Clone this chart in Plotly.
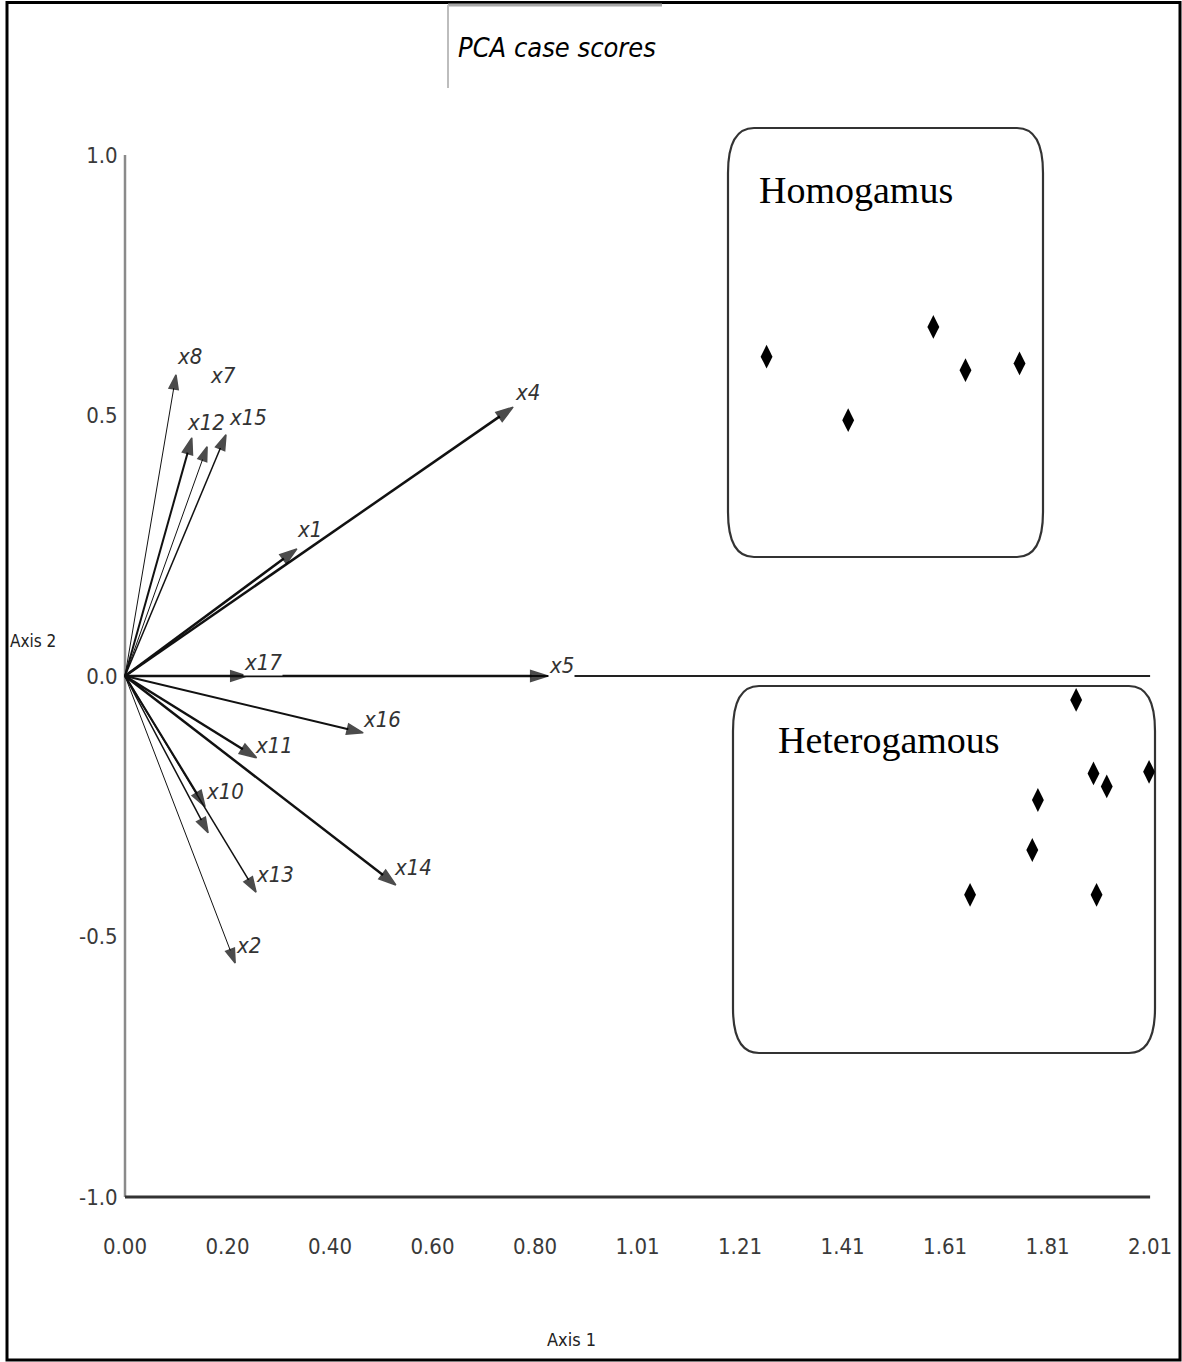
import plotly.graph_objects as go

# ---------------- data ----------------
var_names = ["x8", "x12", "x7", "x15", "x4", "x1", "x17", "x5", "x16", "x11", "x10", "x9", "x13", "x14", "x2"]
var_axis1 = [0.100, 0.131, 0.161, 0.198, 0.761, 0.337, 0.239, 0.829, 0.467, 0.258, 0.157, 0.163, 0.257, 0.531, 0.216]
var_axis2 = [0.578, 0.457, 0.440, 0.463, 0.516, 0.244, 0.000, 0.000, -0.109, -0.157, -0.251, -0.301, -0.415, -0.401, -0.551]

homo_axis1 = [1.258, 1.418, 1.585, 1.648, 1.754]
homo_axis2 = [0.613, 0.491, 0.670, 0.587, 0.600]

hetero_axis1 = [1.865, 1.899, 1.925, 2.008, 1.790, 1.779, 1.657, 1.905]
hetero_axis2 = [-0.046, -0.187, -0.212, -0.184, -0.238, -0.334, -0.420, -0.420]

x_tick_values = [i * 0.201 for i in range(11)]
x_tick_labels = ["0.00", "0.20", "0.40", "0.60", "0.80", "1.01", "1.21", "1.41", "1.61", "1.81", "2.01"]
y_tick_values = [-1.0, -0.5, 0.0, 0.5, 1.0]
y_tick_labels = ["-1.0", "-0.5", "0.0", "0.5", "1.0"]

# ---------------- styles / layout geometry ----------------
W, H = 1182, 1362
PX0, PXU = 125, 510.0   # pixel of x=0, pixels per unit
PY0, PYU = 676, 521.0   # pixel of y=0, pixels per unit
xr = [(0 - PX0) / PXU, (W - PX0) / PXU]
yr = [(PY0 - H) / PYU, (PY0 - 0) / PYU]

NARROW = "Liberation Sans Narrow, Arial Narrow, DejaVu Sans Condensed, Liberation Sans, Arial"
SERIF = "Liberation Serif, Times New Roman, serif"

widths = {"x8": 1, "x12": 2, "x7": 1, "x15": 1.5, "x4": 2.5, "x1": 2.5, "x17": 2,
          "x5": 2.5, "x16": 2, "x11": 2.5, "x10": 2, "x9": 1.5, "x13": 1.5, "x14": 2.5, "x2": 1}
label_shift = {"x8": (13, 18), "x12": (14, 15), "x7": (16, 71), "x15": (22, 17), "x4": (14, 15),
               "x1": (13, 19), "x17": (16, 14), "x5": (14, 11), "x16": (19, 13), "x11": (17, 12),
               "x10": (20, 15), "x13": (19, 18), "x14": (17, 17), "x2": (13, 18)}
bg_labels = {"x17", "x5"}

fig = go.Figure()

# vectors (arrows)
for n, vx, vy in zip(var_names, var_axis1, var_axis2):
    w = widths[n]
    fig.add_trace(go.Scatter(
        x=[0, vx], y=[0, vy], mode="lines+markers",
        line=dict(color="#111111", width=w),
        marker=dict(symbol="arrow", size=[0, 13 + 2 * w], color="black",
                    angleref="previous", line=dict(width=1.5, color="black")),
        hoverinfo="skip", showlegend=False))

# case scores
fig.add_trace(go.Scatter(x=homo_axis1, y=homo_axis2, mode="markers",
                         marker=dict(symbol="diamond-tall", size=17, color="black"),
                         showlegend=False, cliponaxis=False))
fig.add_trace(go.Scatter(x=hetero_axis1, y=hetero_axis2, mode="markers",
                         marker=dict(symbol="diamond-tall", size=17, color="black"),
                         showlegend=False, cliponaxis=False))

# labels for vectors
for n, vx, vy in zip(var_names, var_axis1, var_axis2):
    if n not in label_shift:
        continue
    dx, dy = label_shift[n]
    fig.add_annotation(x=vx, y=vy, text=n, showarrow=False, xshift=dx, yshift=dy,
                       font=dict(family=NARROW, size=22, color="#333333", style="italic"),
                       bgcolor="white" if n in bg_labels else None, borderpad=0)

shapes = []
# horizontal zero line
shapes.append(dict(type="line", xref="x", yref="y", x0=0, x1=2.01, y0=0, y1=0,
                   line=dict(color="#222222", width=2), layer="below"))
# axis lines
shapes.append(dict(type="line", xref="x", yref="y", x0=0, x1=0, y0=-1, y1=1,
                   line=dict(color="#8a8a8a", width=2.5), layer="below"))
shapes.append(dict(type="line", xref="x", yref="y", x0=0, x1=2.01, y0=-1, y1=-1,
                   line=dict(color="#333333", width=3), layer="below"))


def rounded_box(px0, px1, py0, py1, rpx, rpy):
    x0 = (px0 - PX0) / PXU
    x1 = (px1 - PX0) / PXU
    yt = (PY0 - py0) / PYU
    yb = (PY0 - py1) / PYU
    rx = rpx / PXU
    ry = rpy / PYU
    p = (f"M{x0+rx},{yt} L{x1-rx},{yt} Q{x1},{yt} {x1},{yt-ry} L{x1},{yb+ry} "
         f"Q{x1},{yb} {x1-rx},{yb} L{x0+rx},{yb} Q{x0},{yb} {x0},{yb+ry} "
         f"L{x0},{yt-ry} Q{x0},{yt} {x0+rx},{yt} Z")
    return dict(type="path", xref="x", yref="y", path=p,
                line=dict(color="#333333", width=2.2), layer="below")


shapes.append(rounded_box(728, 1043, 128, 557, 26, 45))
shapes.append(rounded_box(733, 1155, 686, 1053, 26, 45))

# outer frame
shapes.append(dict(type="rect", xref="paper", yref="paper",
                   x0=7 / W, x1=1180 / W, y0=1 - 1360 / H, y1=1 - 2.5 / H,
                   line=dict(color="black", width=3)))
# title tab
shapes.append(dict(type="line", xref="paper", yref="paper", x0=448 / W, x1=662 / W,
                   y0=1 - 5 / H, y1=1 - 5 / H, line=dict(color="#a8a8a8", width=3)))
shapes.append(dict(type="line", xref="paper", yref="paper", x0=448 / W, x1=448 / W,
                   y0=1 - 5 / H, y1=1 - 88 / H, line=dict(color="#bdbdbd", width=2)))

fig.update_layout(shapes=shapes)

# texts
fig.add_annotation(xref="paper", yref="paper", x=557 / W, y=1 - 47 / H, text="PCA case scores",
                   xanchor="center", yanchor="middle",
                   showarrow=False, font=dict(family=NARROW, size=27, color="black", style="italic"))
fig.add_annotation(xref="x", yref="y", x=(757 - PX0) / PXU, y=(PY0 - 190) / PYU, text="Homogamus",
                   xanchor="left", yanchor="middle", showarrow=False,
                   font=dict(family=SERIF, size=38, color="black"))
fig.add_annotation(xref="x", yref="y", x=(776 - PX0) / PXU, y=(PY0 - 740) / PYU, text="Heterogamous",
                   xanchor="left", yanchor="middle", showarrow=False,
                   font=dict(family=SERIF, size=38, color="black"))
fig.add_annotation(xref="paper", yref="paper", x=33 / W, y=1 - 641 / H, text="Axis 2",
                   xanchor="center", yanchor="middle",
                   showarrow=False, font=dict(family=NARROW, size=17, color="#222222"))
fig.add_annotation(xref="paper", yref="paper", x=571 / W, y=1 - 1339 / H, text="Axis 1",
                   xanchor="center", yanchor="middle",
                   showarrow=False, font=dict(family=NARROW, size=18, color="#222222"))

fig.update_layout(
    width=W, height=H, template="none",
    margin=dict(l=0, r=0, t=0, b=0),
    paper_bgcolor="white", plot_bgcolor="white",
    showlegend=False,
    xaxis=dict(range=xr, domain=[0, 1], anchor="free", position=1 - 1197 / H,
               showgrid=False, zeroline=False, showline=False,
               tickmode="array", tickvals=x_tick_values, ticktext=x_tick_labels,
               ticks="outside", ticklen=30, tickcolor="rgba(0,0,0,0)",
               tickfont=dict(family=NARROW, size=22, color="#3a3a3a"), automargin=False),
    yaxis=dict(range=yr, domain=[0, 1], anchor="free", position=PX0 / W,
               showgrid=False, zeroline=False, showline=False,
               tickmode="array", tickvals=y_tick_values, ticktext=y_tick_labels,
               ticks="outside", ticklen=3, tickcolor="rgba(0,0,0,0)",
               tickfont=dict(family=NARROW, size=22, color="#3a3a3a"), automargin=False),
)

fig.write_html("out.html", config={"displayModeBar": False},
               post_script="document.body.style.margin='0';document.body.style.padding='0';")
